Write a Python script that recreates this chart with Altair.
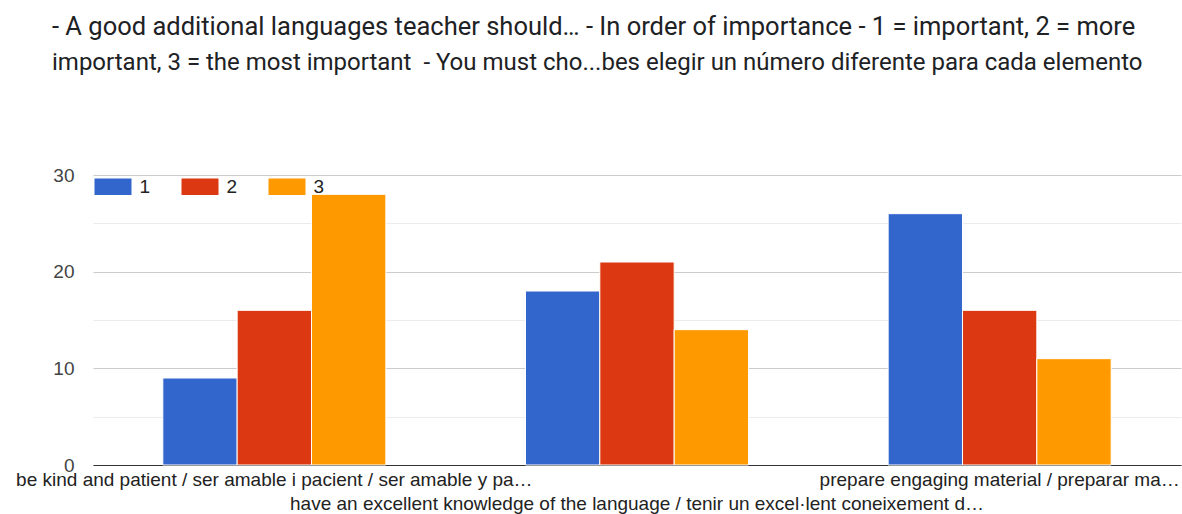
import json
import altair as alt
import pandas as pd

categories = [
    "be kind and patient / ser amable i pacient / ser amable y pa…",
    "have an excellent knowledge of the language / tenir un excel·lent coneixement d…",
    "prepare engaging material / preparar ma…",
]
series = ["1", "2", "3"]
values_1 = [9, 18, 26]
values_2 = [16, 21, 16]
values_3 = [28, 14, 11]
y_ticks = [0, 5, 10, 15, 20, 25, 30]
colors = ["#3366cc", "#dc3912", "#ff9900"]
title_line_1 = "- A good additional languages teacher should… - In order of importance - 1 = important, 2 = more"
title_line_2 = "important, 3 = the most important\u00a0 - You must cho...bes elegir un número diferente para cada elemento"

rows = []
for s, vals in zip(series, [values_1, values_2, values_3]):
    for c, v in zip(categories, vals):
        rows.append({"category": c, "series": s, "value": v})
df = pd.DataFrame(rows)

cats_js = json.dumps(categories, ensure_ascii=False)
label_expr = f"indexof({cats_js}, datum.value) % 2 == 1 ? ['', datum.label] : datum.label"

chart = (
    alt.Chart(df)
    .mark_bar(stroke="white", strokeWidth=1)
    .encode(
        x=alt.X(
            "category:N",
            sort=categories,
            title=None,
            scale=alt.Scale(paddingInner=0.385, paddingOuter=0.1925),
            axis=alt.Axis(
                labelAngle=0,
                labelExpr=label_expr,
                labelFont="Liberation Sans",
                labelFontSize=19,
                labelColor="#222222",
                labelLineHeight=24,
                labelPadding=5,
                labelLimit=2000,
                labelOverlap=False,
                labelBound=False,
                labelFlush=False,
                ticks=False,
                domainColor="#333333",
                domainWidth=1,
                grid=False,
            ),
        ),
        xOffset=alt.XOffset("series:N", sort=series, scale=alt.Scale(paddingInner=0, paddingOuter=0)),
        y=alt.Y(
            "value:Q",
            title=None,
            scale=alt.Scale(domain=[0, 30], nice=False),
            axis=alt.Axis(
                values=y_ticks,
                labelExpr="datum.value % 10 == 0 ? datum.label : ''",
                labelFont="Liberation Sans",
                labelFontSize=19,
                labelColor="#444444",
                labelPadding=19,
                ticks=False,
                domain=False,
                gridColor=alt.condition("datum.value % 10 == 0", alt.value("#cccccc"), alt.value("#ebebeb")),
                gridWidth=1,
            ),
        ),
        color=alt.Color(
            "series:N",
            sort=series,
            scale=alt.Scale(domain=series, range=colors),
            legend=alt.Legend(
                title=None,
                orient="none",
                legendX=1.5,
                legendY=-7,
                direction="horizontal",
                symbolType="M-1,-0.45L1,-0.45L1,0.45L-1,0.45Z",
                symbolSize=1369,
                symbolStrokeWidth=0,
                symbolOpacity=1,
                labelFont="Liberation Sans",
                labelFontSize=19,
                labelColor="#222222",
                labelOffset=8,
                columnPadding=31,
                padding=0,
            ),
        ),
    )
    .properties(
        width=1088,
        height=290,
        autosize=alt.AutoSizeParams(type="none"),
        padding={"left": 93, "top": 175, "right": 1, "bottom": 49},
        title=alt.TitleParams(
            text=title_line_1,
            subtitle=title_line_2,
            anchor="start",
            frame="group",
            dx=-41,
            offset=91,
            font="Roboto",
            fontSize=25.5,
            fontWeight="normal",
            color="#202124",
            subtitleFont="Roboto",
            subtitleFontSize=24,
            subtitleFontWeight="normal",
            subtitleColor="#202124",
            subtitlePadding=11,
        ),
    )
    .configure_view(stroke=None)
)

chart.save("out.html", embed_options={"renderer": "svg", "actions": False})
